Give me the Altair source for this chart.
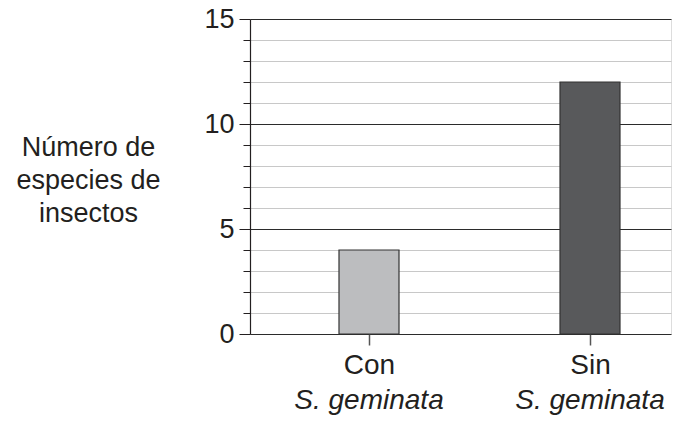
import altair as alt
import pandas as pd

categories = ["Con", "Sin"]
subtitles = ["S. geminata", "S. geminata"]
values = [4, 12]
bar_colors = ["#bcbdbf", "#58595b"]
y_ticks = list(range(0, 16))
y_title = ["Número de", "especies de", "insectos"]

df = pd.DataFrame({"grupo": categories, "especie": subtitles,
                   "valor": values, "color": bar_colors})

TXT = "#231f20"
FONT = "Liberation Sans"

x_scale = alt.Scale(type="point", padding=0.4525, align=0.595)

x_enc = alt.X(
    "grupo:N", sort=categories, scale=x_scale,
    axis=alt.Axis(title=None, labelAngle=0, labelFontSize=28, labelFont=FONT,
                  labelColor=TXT, tickSize=11, tickColor="#555555", tickWidth=1.5,
                  domain=False, grid=False, labelPadding=6),
)

y_enc = alt.Y(
    "valor:Q",
    scale=alt.Scale(domain=[0, 15], nice=False, zero=True),
    axis=alt.Axis(
        values=y_ticks,
        labelExpr="datum.value % 5 === 0 ? datum.label : ''",
        labelFontSize=27, labelFont=FONT, labelColor=TXT, labelPadding=5,
        tickSize={"condition": {"test": "datum.value % 5 === 0", "value": 11}, "value": 7},
        tickColor=TXT,
        gridColor={"condition": {"test": "datum.value % 5 === 0", "value": "#2b2b2b"}, "value": "#c8c8c8"},
        gridWidth=1.2,
        domainColor=TXT, domainWidth=1.2,
        title=y_title, titleAngle=0, titleAlign="center", titleBaseline="middle",
        titleX=-162, titleY=128, titleFontSize=27, titleFont=FONT,
        titleFontWeight="normal", titleColor=TXT, titleLineHeight=33,
    ),
)

bars = alt.Chart(df).mark_bar(size=60, stroke="#333333", strokeWidth=1.2).encode(
    x=x_enc, y=y_enc, color=alt.Color("color:N", scale=None)
)

sub = alt.Chart(df).mark_text(fontSize=28, font=FONT, fontStyle="italic",
                              color=TXT, baseline="alphabetic", align="center").encode(
    x=alt.X("grupo:N", sort=categories, scale=x_scale), y=alt.value(390), text="especie:N"
)

chart = alt.layer(bars, sub).properties(
    width=421, height=315, autosize="none",
    padding={"left": 242, "top": 11, "right": 4, "bottom": 87},
).configure_view(stroke=None).configure(font=FONT)

chart.save("out.html", embed_options={"renderer": "svg", "actions": False})
